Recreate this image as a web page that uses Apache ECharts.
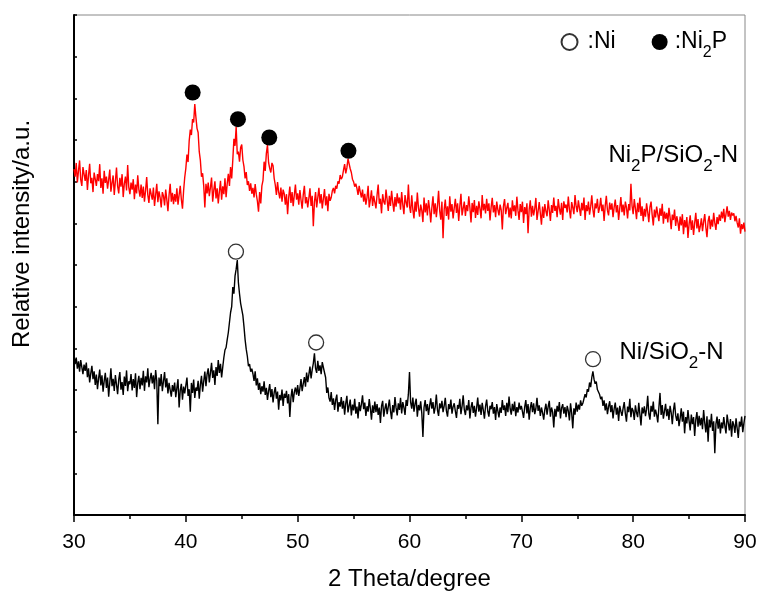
<!DOCTYPE html>
<html><head><meta charset="utf-8">
<script src="https://cdn.jsdelivr.net/npm/echarts@6/dist/echarts.min.js"></script>
<style>html,body{margin:0;padding:0;background:#fff}#c{width:761px;height:592px}</style>
</head><body><div id="c"></div>
<script>
// 2-theta grid of the measurement
const thetaStart = 30;
const thetaStep = 0.1;
const xTicks = [30, 40, 50, 60, 70, 80, 90];

// Ni2P/SiO2-N intensity (a.u.), one row per degree, 0.1 deg steps
const ni2pSiO2 = [
830,812,845,798,826,851,805,790,835,818,
802,828,780,815,843,796,809,775,822,806,
790,818,801,842,785,808,771,826,797,812,
783,805,829,776,797,815,768,801,834,789,
772,809,788,818,763,795,812,779,840,786,
770,798,781,806,758,793,772,815,781,764,
793,761,788,752,779,811,768,749,784,770,
757,786,742,768,795,751,777,762,738,775,
766,743,781,757,729,768,795,752,773,746,
770,752,784,745,768,790,757,735,778,810,
832,865,847,898,925,912,950,942,986,955,
928,918,872,851,812,820,790,738,795,772,
798,765,786,810,752,779,801,760,784,748,
776,802,757,789,770,808,763,795,819,790,
835,808,852,903,886,932,866,872,848,882,
889,852,836,808,823,792,801,778,796,771,
785,762,794,770,753,728,775,748,790,803,
848,826,868,888,846,832,822,845,838,808,
792,768,799,775,760,786,752,781,771,745,
770,722,763,788,749,775,741,768,793,757,
772,745,780,756,735,769,790,748,763,738,
760,784,742,766,693,751,775,738,762,785,
748,770,736,759,782,743,765,729,771,754,
762,778,785,772,790,783,801,795,816,806,
812,828,842,820,833,855,858,831,822,806,
800,788,795,784,768,790,775,762,781,752,
771,745,762,790,738,757,779,742,766,751,
736,768,793,747,759,724,770,752,745,781,
757,730,766,742,778,751,728,763,740,772,
748,762,733,775,745,722,768,750,738,793,
741,725,767,733,712,752,728,774,738,716,
745,731,703,762,726,748,719,756,734,702,
738,765,722,748,715,742,778,730,709,752,
664,733,757,718,741,709,765,728,746,712,
737,759,725,748,706,741,771,719,736,752,
718,744,729,765,738,702,749,727,756,713,
742,720,753,735,712,768,731,747,724,759,
730,748,707,739,761,726,744,715,752,733,
719,745,732,685,741,758,722,737,749,714,
738,712,755,729,743,718,764,731,708,746,
727,752,701,739,722,748,676,733,755,716,
742,719,735,761,708,729,751,724,697,740,
713,746,729,717,755,732,706,744,725,762,
730,742,715,758,736,721,749,708,753,737,
745,726,764,733,712,751,738,722,768,741,
727,755,736,718,749,731,762,708,744,729,
752,721,740,767,733,714,748,736,759,725,
738,761,729,745,706,742,766,731,719,750,
733,748,715,739,757,726,744,708,736,763,
727,745,719,752,738,712,746,731,795,742,
722,758,736,710,749,727,762,718,741,705,
735,716,748,727,703,739,752,720,695,733,
714,740,722,705,736,718,747,699,728,711,
725,702,737,715,686,721,708,733,694,717,
703,682,716,695,722,674,708,690,715,665,
698,719,684,707,672,701,725,688,710,679,
693,712,681,704,722,690,667,705,718,686,
709,692,725,701,684,715,698,721,706,728,
712,735,703,722,741,716,730,708,726,719,
724,705,718,701,690,712,675,698,686,702,
680];

// Ni/SiO2-N intensity (a.u.), one row per degree, 0.1 deg steps
const niSiO2 = [
384,362,378,351,369,344,372,355,338,361,
346,366,331,352,318,340,358,326,345,312,
337,302,328,349,311,335,296,322,341,305,
330,284,318,352,309,327,298,336,313,290,
325,343,301,319,288,332,310,347,297,321,
314,338,299,326,305,340,283,317,334,302,
329,311,346,298,333,318,352,307,326,341,
316,335,302,348,322,218,330,309,338,297,
321,343,306,328,292,317,300,284,312,296,
318,283,305,326,258,299,315,277,308,292,
311,330,286,302,248,317,293,325,281,306,
298,322,279,313,334,296,321,344,309,338,
352,318,341,365,329,347,312,355,334,372,
341,363,330,355,378,396,402,421,438,462,
486,500,547,531,574,590,612,558,531,508,
512,479,452,421,398,381,357,362,344,351,
339,322,345,311,328,300,317,290,309,296,
321,288,305,276,298,314,283,302,270,294,
307,279,296,253,288,275,301,262,291,281,
298,268,290,235,282,303,271,295,306,289,
312,286,304,326,297,315,331,308,342,319,
337,356,328,349,364,388,352,341,370,346,
359,338,367,354,342,330,293,306,281,272,
295,264,280,252,276,289,248,271,260,283,
255,274,241,268,286,246,262,277,239,265,
251,279,243,260,232,271,249,266,287,254,
270,238,261,248,278,256,229,263,245,272,
247,266,240,258,221,262,274,236,255,268,
242,259,277,250,230,264,246,283,257,239,
268,252,281,244,271,258,240,276,262,290,
343,271,255,282,248,267,279,236,264,251,
273,244,187,258,276,249,266,240,262,280,
255,271,243,259,289,252,238,268,256,274,
247,262,281,250,236,266,254,277,243,260,
268,249,233,264,255,279,242,261,287,253,
240,263,251,276,232,258,271,245,262,236,
257,282,248,265,240,269,252,231,261,277,
249,236,262,254,271,243,259,228,266,250,
234,258,245,276,252,263,238,269,247,284,
255,241,267,249,272,237,259,246,270,253,
262,248,233,259,276,244,266,229,257,271,
247,268,242,255,281,250,263,238,258,245,
229,253,267,241,260,274,236,258,247,210,
255,236,262,248,271,232,257,266,243,259,
235,262,250,227,268,245,208,256,241,270,
248,265,253,275,262,268,279,290,282,302,
296,318,307,330,345,326,315,320,301,295,
289,278,284,262,275,251,268,242,260,273,
247,264,232,255,270,241,258,226,262,249,
238,256,271,244,224,260,247,279,235,257,
250,228,263,246,235,269,242,215,258,244,
261,237,254,286,243,229,262,248,272,236,
253,241,222,258,293,240,264,231,249,267,
237,255,228,262,246,218,251,270,239,226,
244,213,232,256,224,248,196,235,220,252,
226,203,241,218,235,190,229,247,212,238,
215,233,206,252,221,198,237,176,229,210,
243,202,225,148,218,236,207,230,196,222,
208,235,214,196,241,222,203,230,188,225,
216,197,232,208,185,224,212,236,199,220,
238];

// phase markers [2theta, intensity]
const niPeakMarks = [[44.48, 632], [51.65, 414], [76.41, 374]];
const ni2pPeakMarks = [[40.61, 1014], [44.66, 950], [47.46, 906], [54.54, 874]];

const FONT = 'Liberation Sans, Arial, sans-serif';
const toPairs = arr => arr.map((v, i) => [+(thetaStart + i * thetaStep).toFixed(2), v]);

const chart = echarts.init(document.getElementById('c'), null, {renderer: 'canvas'});
chart.setOption({
  animation: false,
  backgroundColor: '#fff',
  grid: {left: 74, right: 16, top: 15, bottom: 77, show: true, borderColor: '#888', borderWidth: 1,
         containLabel: false, outerBoundsMode: 'none'},
  xAxis: {
    type: 'value', min: xTicks[0], max: xTicks[xTicks.length - 1], interval: 10,
    axisLine: {onZero: false, lineStyle: {color: '#000', width: 2}},
    axisTick: {inside: false, length: 7, lineStyle: {color: '#000', width: 1.5}},
    minorTick: {show: true, splitNumber: 2, length: 4, lineStyle: {color: '#000', width: 1.5}},
    axisLabel: {color: '#000', fontSize: 21, fontFamily: FONT, margin: 17},
    splitLine: {show: false},
    name: '2 Theta/degree', nameLocation: 'middle', nameGap: 52,
    nameTextStyle: {color: '#000', fontSize: 24, fontFamily: FONT}
  },
  yAxis: {
    type: 'value', min: 0, max: 1200, interval: 100,
    axisLine: {onZero: false, lineStyle: {color: '#000', width: 2}},
    axisTick: {inside: true, length: 3, lineStyle: {color: '#000', width: 1.5}},
    axisLabel: {show: false},
    splitLine: {show: false},
    name: 'Relative intensity/a.u.', nameLocation: 'middle', nameRotate: 90, nameGap: 40,
    nameTextStyle: {color: '#000', fontSize: 24, fontFamily: FONT, padding: [0, 0, 0, 62]}
  },
  legend: {
    right: 34, top: 23, padding: 0, itemGap: 36, itemWidth: 16, itemHeight: 16,
    data: [{name: 'Ni', icon: 'circle'}, {name: 'Ni2P', icon: 'circle'}],
    formatter: n => n === 'Ni' ? '{n|:Ni}' : '{f|:Ni}{s|2}{m|P}',
    textStyle: {
      color: '#000', fontSize: 23, fontFamily: FONT, lineHeight: 38,
      rich: {
        n: {fontSize: 23, lineHeight: 38, fontFamily: FONT, color: '#000', padding: [0, 0, 0, 5]},
        f: {fontSize: 23, lineHeight: 38, fontFamily: FONT, color: '#000', padding: [0, 0, 0, 2]},
        m: {fontSize: 23, lineHeight: 38, fontFamily: FONT, color: '#000'},
        s: {fontSize: 16, lineHeight: 16, fontFamily: FONT, color: '#000', verticalAlign: 'bottom'}
      }
    }
  },
  series: [
    {name: 'Ni2P/SiO2-N', type: 'line', data: toPairs(ni2pSiO2), showSymbol: false, symbol: 'none',
     lineStyle: {color: '#ff0000', width: 1.4}, itemStyle: {color: '#ff0000'}, z: 2},
    {name: 'Ni/SiO2-N', type: 'line', data: toPairs(niSiO2), showSymbol: false, symbol: 'none',
     lineStyle: {color: '#000', width: 1.4}, itemStyle: {color: '#000'}, z: 2},
    {name: 'Ni', type: 'scatter', data: niPeakMarks, symbol: 'circle', symbolSize: 15,
     itemStyle: {color: '#fff', borderColor: '#333', borderWidth: 1.3, opacity: 1}, z: 5},
    {name: 'Ni2P', type: 'scatter', data: ni2pPeakMarks, symbol: 'circle', symbolSize: 16,
     itemStyle: {color: '#000', opacity: 1}, z: 5}
  ],
  graphic: [
    {type: 'text', x: 738, y: 155.5, z: 10,
     style: {text: '{m|Ni}{s|2}{m|P/SiO}{s|2}{m|-N}', align: 'right', verticalAlign: 'middle',
       rich: {m: {fontSize: 24, lineHeight: 38, fontFamily: FONT, fill: '#000'},
              s: {fontSize: 17, lineHeight: 17, fontFamily: FONT, fill: '#000', verticalAlign: 'bottom'}}}},
    {type: 'text', x: 619.5, y: 352.5, z: 10,
     style: {text: '{m|Ni/SiO}{s|2}{m|-N}', align: 'left', verticalAlign: 'middle',
       rich: {m: {fontSize: 24, lineHeight: 38, fontFamily: FONT, fill: '#000'},
              s: {fontSize: 17, lineHeight: 17, fontFamily: FONT, fill: '#000', verticalAlign: 'bottom'}}}}
  ]
});
</script>
</body></html>
